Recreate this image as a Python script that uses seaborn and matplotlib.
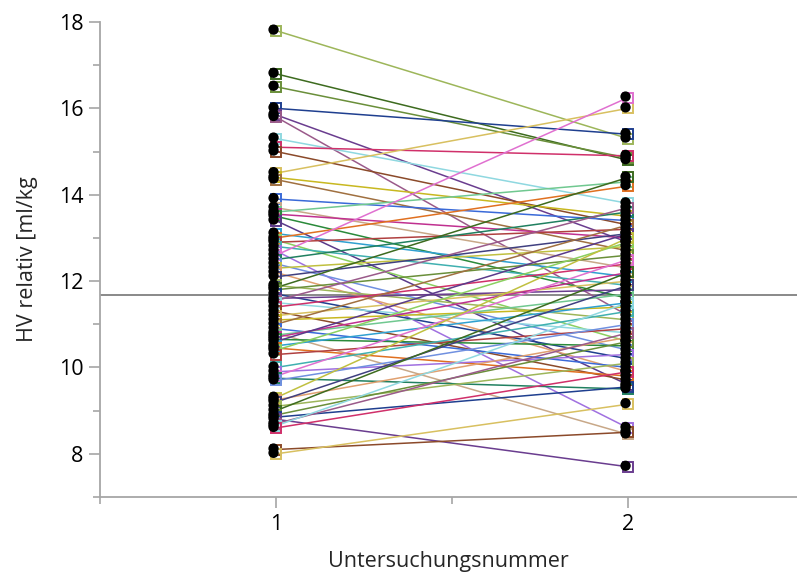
import numpy as np
import pandas as pd
import seaborn as sns
import matplotlib.pyplot as plt
from matplotlib.ticker import MultipleLocator
from matplotlib.transforms import ScaledTranslation

# HV relativ at Untersuchung 1 and 2 (one entry per subject)
hv_1 = [17.8, 16.8, 16.5, 16.0, 15.85, 15.8, 15.3, 15.1, 15.0, 14.5,
        14.4, 14.35, 13.9, 13.7, 13.6, 13.55, 13.5, 13.4, 13.1, 13.0,
        12.95, 12.9, 12.8, 12.7, 12.6, 12.5, 12.4, 12.3, 12.2, 12.1,
        11.9, 11.85, 11.8, 11.7, 11.6, 11.55, 11.5, 11.4, 11.3, 11.2,
        11.1, 11.0, 10.9, 10.8, 10.75, 10.7, 10.65, 10.6, 10.5, 10.45,
        10.4, 10.3, 10.0, 9.9, 9.8, 9.75, 9.7, 9.3, 9.25, 9.2,
        9.1, 9.0, 8.9, 8.85, 8.8, 8.7, 8.65, 8.6, 8.1, 8.0]
hv_2 = [15.3, 14.8, 14.85, 15.4, 12.9, 11.2, 13.8, 14.9, 13.3, 16.0,
        13.5, 12.7, 13.4, 12.3, 14.3, 13.0, 11.6, 9.6, 12.1, 14.2,
        10.6, 13.2, 11.9, 8.6, 16.25, 13.6, 10.4, 12.8, 9.9, 13.1,
        11.1, 14.4, 12.6, 10.2, 11.8, 13.7, 10.8, 12.4, 9.7, 12.0,
        11.4, 13.3, 10.0, 8.45, 11.7, 12.2, 10.5, 13.1, 11.5, 9.8,
        12.9, 10.9, 11.3, 10.3, 12.5, 9.5, 11.0, 13.0, 10.7, 11.9,
        10.1, 12.2, 10.6, 9.55, 7.7, 10.8, 11.5, 9.9, 8.5, 9.15]
mean_line = 11.68
x_ticks = [1, 2]

colors = ["#9db65a", "#3d6b1f", "#6a8f3a", "#1f3f8f", "#6a3d8f", "#9a5a8a",
          "#8fd8e0", "#d0306a", "#8b4a2a", "#d8c060", "#c8b820", "#a07040",
          "#3a6ad8", "#c8a888", "#70c890", "#c03090", "#2a8a3a", "#5a3a8a",
          "#30a0d0", "#e07020", "#8ad060", "#b04040", "#40b0b0", "#a070e0",
          "#e070d0", "#208060", "#7090e0", "#c0c040", "#e0a070", "#404080"]

n = len(hv_1)
df = pd.DataFrame({
    "id": np.repeat(np.arange(n), 2),
    "nr": np.tile(x_ticks, n),
    "hv": np.column_stack([hv_1, hv_2]).ravel(),
})
palette = [colors[i % len(colors)] for i in range(n)]

sns.set_style("white")
plt.rcParams["font.family"] = ["Open Sans", "DejaVu Sans"]

fig = plt.figure(figsize=(7.97, 5.74), dpi=100)
ax = fig.add_axes([0.1255, 0.1341, 0.8745, 0.8276])

ax.axhline(mean_line, color="#808080", lw=1.3, zorder=1)

sns.lineplot(data=df, x="nr", y="hv", hue="id", units="id", estimator=None,
             palette=palette, legend=False, lw=1.1, marker="s", ms=7.5,
             ax=ax, zorder=2)
for ln in ax.lines[1:]:
    ln.set_markerfacecolor("none")
    ln.set_markeredgecolor(ln.get_color())
    ln.set_markeredgewidth(1.4)

sns.scatterplot(data=df, x="nr", y="hv", color="black", s=55,
                edgecolor="none", ax=ax, zorder=4)
dots = ax.collections[-1]
dots.set_offset_transform(ax.transData + ScaledTranslation(-0.025, 0.01, fig.dpi_scale_trans))

ax.set_xlim(0.5, 2.48)
ax.set_ylim(7, 18)
ax.set_xticks(x_ticks)
ax.xaxis.set_minor_locator(MultipleLocator(0.5))
ax.yaxis.set_major_locator(MultipleLocator(2))
ax.yaxis.set_minor_locator(MultipleLocator(1))

for s in ["top", "right"]:
    ax.spines[s].set_visible(False)
for s in ["left", "bottom"]:
    ax.spines[s].set_color("#a6a6a6")
    ax.spines[s].set_linewidth(1.3)
ax.tick_params(which="both", direction="out", color="#a6a6a6", width=1.2,
               labelsize=15.5, labelcolor="black", left=True, bottom=True)
ax.tick_params(which="major", length=8, pad=4)
ax.tick_params(which="minor", length=5)

ax.set_xlabel("Untersuchungsnummer", fontsize=15.5, labelpad=12)
ax.set_ylabel("HV relativ [ml/kg", fontsize=15.5, labelpad=15)

fig.savefig("out.png", dpi=100)
